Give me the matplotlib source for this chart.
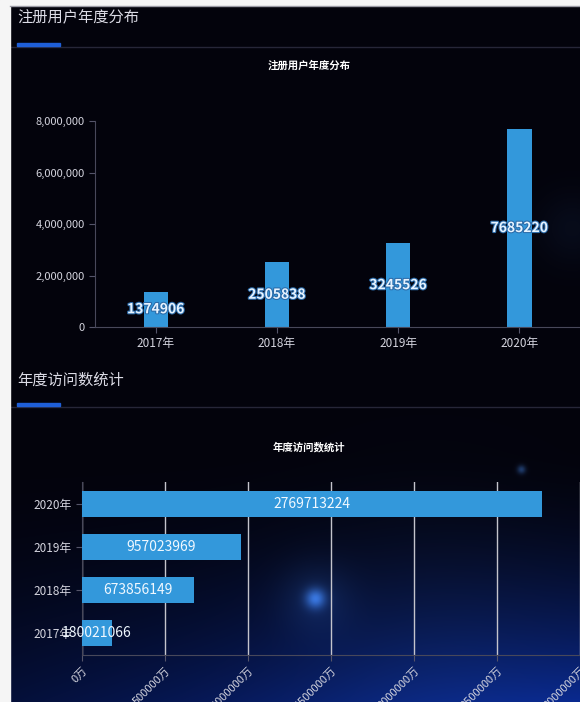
import numpy as np
import matplotlib.pyplot as plt
import matplotlib.patheffects as pe
from matplotlib.patches import Rectangle
from matplotlib.lines import Line2D

plt.rcParams['font.family'] = ['Noto Sans CJK SC', 'DejaVu Sans']

years = ['2017年', '2018年', '2019年', '2020年']
users = [1374906, 2505838, 3245526, 7685220]
visits = [180021066, 673856149, 957023969, 2769713224]

user_ticks = [0, 2000000, 4000000, 6000000, 8000000]
user_tick_labels = ['0', '2,000,000', '4,000,000', '6,000,000', '8,000,000']
visit_ticks = [0, 500000000, 1000000000, 1500000000, 2000000000, 2500000000, 3000000000]
visit_tick_labels = ['0万', '500000万', '1000000万', '1500000万', '2000000万', '2500000万', '3000000万']

W, H = 580, 702
fig = plt.figure(figsize=(W / 100, H / 100), dpi=100)

# background: dark navy with blue glow towards the bottom
yy, xx = np.mgrid[0:H, 0:W]
img = np.ones((H, W, 3)) * np.array([3, 3, 12], dtype=float)
f = np.clip((yy - 450) / 250.0, 0, 1) ** 1.8 * (0.35 + 0.65 * xx / W)
img += f[..., None] * np.array([5, 35, 125])
for cx, cy, r, amp in [(315, 598, 7, 140), (315, 598, 25, 30), (521, 469, 3, 90),
                       (572, 228, 25, 14), (430, 670, 110, 15)]:
    g = np.exp(-((xx - cx) ** 2 + (yy - cy) ** 2) / (2 * r ** 2))
    img += g[..., None] * np.array([0.3, 0.6, 1.0]) * amp
img = np.clip(img, 0, 255) / 255
bg = fig.add_axes([0, 0, 1, 1])
bg.imshow(img, extent=[0, W, H, 0], aspect='auto')
bg.set_xlim(0, W)
bg.set_ylim(H, 0)
bg.axis('off')

# white page margins
bg.add_patch(Rectangle((0, 0), 10, H, color='#f5f5f5', zorder=3))
bg.add_patch(Rectangle((0, 0), W, 5, color='#f5f5f5', zorder=3))
bg.add_line(Line2D([10, W], [5.5, 5.5], color='#9a9aa4', lw=1, zorder=3))

# panel headers
for ty, by, title in [(18, 44, '注册用户年度分布'), (380, 404, '年度访问数统计')]:
    bg.text(17, ty, title, color='#dcdce6', fontsize=11, va='center', ha='left')
    bg.add_line(Line2D([10, W], [by + 3, by + 3], color='#262638', lw=1))
    bg.add_patch(Rectangle((17, by - 1.5), 43, 3, color='#1f5fd8', zorder=4))

label_fx = [pe.withStroke(linewidth=1.5, foreground='#2a6aa8')]

# top chart: registered users per year
ax1 = fig.add_axes([95 / W, 375 / H, 485 / W, 206 / H])
ax1.set_facecolor('none')
x = np.arange(len(years))
ax1.bar(x, users, width=0.2, color='#3398db')
for xi, v in zip(x, users):
    ax1.text(xi, v / 2, str(v), ha='center', va='center', fontsize=10,
             fontweight='bold', color='#e6f3ff', path_effects=label_fx)
ax1.set_xlim(-0.5, 3.5)
ax1.set_ylim(0, 8000000)
ax1.set_xticks(x)
ax1.set_xticklabels(years)
ax1.set_yticks(user_ticks)
ax1.set_yticklabels(user_tick_labels)
ax1.tick_params(colors='#55556a', labelcolor='#d4d4de', length=4, labelsize=8.5)
ax1.tick_params(axis='y', labelsize=8)
for s in ['top', 'right']:
    ax1.spines[s].set_visible(False)
for s in ['left', 'bottom']:
    ax1.spines[s].set_color('#48485a')
fig.text(309 / W, 1 - 66 / H, '注册用户年度分布', color='white', fontsize=7.5,
         fontweight='bold', ha='center', va='center')

# bottom chart: visits per year
ax2 = fig.add_axes([82 / W, 47 / H, 498 / W, 173 / H])
ax2.set_facecolor('none')
ax2.barh(x, visits, height=0.6, color='#3398db', zorder=3)
for yi, v in zip(x, visits):
    ax2.text(v / 2, yi, str(v), ha='center', va='center', fontsize=10,
             color='#f0f8ff', zorder=4)
ax2.set_xlim(0, 3000000000)
ax2.set_ylim(-0.5, 3.5)
ax2.set_yticks(x)
ax2.set_yticklabels(years)
ax2.set_xticks(visit_ticks)
ax2.set_xticklabels(visit_tick_labels, rotation=45, ha='right', va='top',
                    rotation_mode='anchor')
ax2.grid(axis='x', color='#c4c4cc', lw=1, zorder=1)
ax2.tick_params(colors='#55556a', labelcolor='#d4d4de', length=4, labelsize=8)
ax2.tick_params(axis='y', labelsize=8.5)
for s in ['top', 'right']:
    ax2.spines[s].set_visible(False)
for s in ['left', 'bottom']:
    ax2.spines[s].set_color('#48485a')
fig.text(309 / W, 1 - 447 / H, '年度访问数统计', color='white', fontsize=7.5,
         fontweight='bold', ha='center', va='center')

fig.savefig('out.png', dpi=100)
